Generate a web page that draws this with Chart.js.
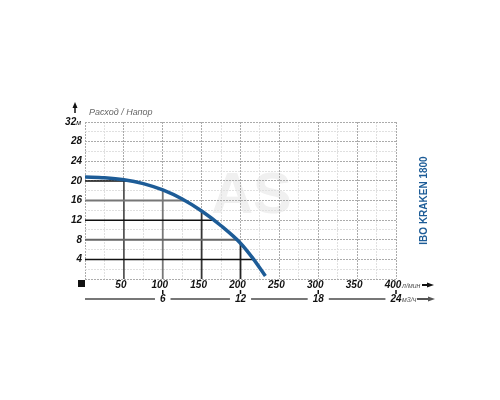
<!DOCTYPE html>
<html>
<head>
<meta charset="utf-8">
<script src="https://cdn.jsdelivr.net/npm/chart.js@4/dist/chart.umd.min.js"></script>
<style>
  html, body { margin: 0; background: #fff; }
  #wrap { width: 500px; height: 400px; }
</style>
</head>
<body>
<div id="wrap"><canvas id="pumpChart" width="500" height="400"></canvas></div>
<script>
// Pump curve IBO KRAKEN 1800: flow (l/min) vs head (m)
const flowLmin = [0, 25, 50, 75, 100, 125, 150, 175, 200, 216, 232];
const headM = [20.8, 20.65, 20.25, 19.45, 18.15, 16.3, 13.85, 10.85, 7.3, 4.2, 0.6];

// helper lines drawn from the axes up to the curve
const headLevels = [20, 16, 12, 8, 4];
const flowLevels = [50, 100, 150, 200];

const yTicks = [4, 8, 12, 16, 20, 24, 28, 32];
const xTicks = [50, 100, 150, 200, 250, 300, 350, 400];
const m3Ticks = [6, 12, 18, 24];

const headColors = ['#111', '#777', '#111', '#666', '#111'];
const flowColors = ['#555', '#777', '#333', '#222'];

// linear interpolation on the curve data
function flowAtHead(h) {
    for (let i = 1; i < headM.length; i++) {
        if (headM[i] <= h) {
            const t = (headM[i - 1] - h) / (headM[i - 1] - headM[i]);
            return flowLmin[i - 1] + t * (flowLmin[i] - flowLmin[i - 1]);
        }
    }
    return flowLmin[flowLmin.length - 1];
}
function headAtFlow(q) {
    for (let i = 1; i < flowLmin.length; i++) {
        if (flowLmin[i] >= q) {
            const t = (q - flowLmin[i - 1]) / (flowLmin[i] - flowLmin[i - 1]);
            return headM[i - 1] + t * (headM[i] - headM[i - 1]);
        }
    }
    return 0;
}

const datasets = [{
    data: flowLmin.map((q, i) => ({ x: q, y: headM[i] })),
    borderColor: '#1d5c97',
    borderWidth: 3.5,
    cubicInterpolationMode: 'monotone',
    pointRadius: 0,
    borderCapStyle: 'butt',
    borderJoinStyle: 'round'
}];
headLevels.forEach((h, i) => {
    datasets.push({
        data: [{ x: 0, y: h }, { x: flowAtHead(h), y: h }],
        borderColor: headColors[i],
        borderWidth: headColors[i] === '#111' ? 1.5 : 2,
        pointRadius: 0
    });
});
flowLevels.forEach((q, i) => {
    datasets.push({
        data: [{ x: q, y: 0 }, { x: q, y: headAtFlow(q) }],
        borderColor: flowColors[i],
        borderWidth: 1.8,
        pointRadius: 0
    });
});

const LABEL_FONT = 'bold italic 10px "Liberation Sans", sans-serif';
const UNIT_FONT = 'italic 7px "Liberation Sans", sans-serif';

function arrowRight(ctx, x0, x1, y, color) {
    ctx.strokeStyle = color;
    ctx.lineWidth = 2;
    ctx.beginPath();
    ctx.moveTo(x0, y);
    ctx.lineTo(x1 - 5, y);
    ctx.stroke();
    ctx.fillStyle = color;
    ctx.beginPath();
    ctx.moveTo(x1, y);
    ctx.lineTo(x1 - 7, y - 2.5);
    ctx.lineTo(x1 - 7, y + 2.5);
    ctx.closePath();
    ctx.fill();
}

const decor = {
    id: 'decor',
    beforeDraw(chart) {
        const { ctx, width, height, chartArea: a } = chart;
        ctx.save();
        ctx.fillStyle = '#fff';
        ctx.fillRect(0, 0, width, height);
        // faint watermark
        ctx.fillStyle = '#f0f0f0';
        ctx.font = 'bold 58px "Liberation Sans", sans-serif';
        ctx.textAlign = 'center';
        ctx.textBaseline = 'middle';
        ctx.fillText('AS', (a.left + a.right) / 2 + 11, (a.top + a.bottom) / 2 - 4);
        ctx.restore();
    },
    afterDraw(chart) {
        const { ctx, chartArea: a } = chart;
        const xs = chart.scales.x, ys = chart.scales.y;
        ctx.save();

        // y tick labels
        ctx.font = LABEL_FONT;
        ctx.fillStyle = '#111';
        ctx.textBaseline = 'middle';
        ctx.textAlign = 'right';
        yTicks.forEach(v => {
            const y = ys.getPixelForValue(v);
            if (v === 32) {
                ctx.font = UNIT_FONT;
                const w = ctx.measureText('м').width;
                ctx.fillText('м', a.left - 4, y + 1);
                ctx.font = LABEL_FONT;
                ctx.fillText(String(v), a.left - 4 - w, y);
            } else {
                ctx.fillText(String(v), a.left - 3, y);
            }
        });

        // y arrow + title
        const ax = a.left - 10;
        ctx.fillStyle = '#111';
        ctx.beginPath();
        ctx.moveTo(ax, a.top - 20);
        ctx.lineTo(ax - 2.5, a.top - 14);
        ctx.lineTo(ax + 2.5, a.top - 14);
        ctx.closePath();
        ctx.fill();
        ctx.fillRect(ax - 0.75, a.top - 15, 1.5, 6);
        ctx.font = 'italic 9px "Liberation Sans", sans-serif';
        ctx.fillStyle = '#666';
        ctx.textAlign = 'left';
        ctx.fillText('Расход / Напор', a.left + 4, a.top - 10);

        // black origin square
        ctx.fillStyle = '#111';
        ctx.fillRect(a.left - 7, a.bottom + 1, 7, 7);

        // x tick labels (l/min)
        const row1 = a.bottom + 6;
        ctx.font = LABEL_FONT;
        ctx.fillStyle = '#111';
        ctx.textAlign = 'center';
        xTicks.forEach(v => {
            ctx.fillText(String(v), xs.getPixelForValue(v) - 3, row1);
        });
        const p400 = xs.getPixelForValue(400);
        ctx.font = UNIT_FONT;
        ctx.fillStyle = '#555';
        ctx.textAlign = 'left';
        ctx.fillText('л/мин', p400 + 6, row1 + 1);
        arrowRight(ctx, p400 + 26, p400 + 38, row1, '#111');

        // second axis (m3/h)
        const row2 = a.bottom + 20;
        ctx.font = LABEL_FONT;
        let prev = a.left;
        m3Ticks.forEach(v => {
            const px = xs.getPixelForValue(v * 1000 / 60);
            const half = ctx.measureText(String(v)).width / 2 + 5;
            ctx.strokeStyle = '#777';
            ctx.lineWidth = 2;
            ctx.beginPath();
            ctx.moveTo(prev, row2);
            ctx.lineTo(px - half, row2);
            ctx.stroke();
            ctx.fillStyle = '#111';
            ctx.fillRect(px - 0.75, row2 - 9, 1.5, 4);
            ctx.textAlign = 'center';
            ctx.fillText(String(v), px, row2);
            prev = px + half;
        });
        const p24 = xs.getPixelForValue(24 * 1000 / 60);
        ctx.font = UNIT_FONT;
        ctx.fillStyle = '#555';
        ctx.textAlign = 'left';
        ctx.fillText('м3/ч', p24 + 6, row2 + 1);
        arrowRight(ctx, p24 + 21, p24 + 39, row2, '#555');

        // model name
        ctx.translate(a.right + 28, (a.top + a.bottom) / 2);
        ctx.rotate(-Math.PI / 2);
        ctx.font = 'bold 10px "Liberation Sans", sans-serif';
        ctx.fillStyle = '#1d5c97';
        ctx.textAlign = 'center';
        ctx.fillText('IBO KRAKEN 1800', 0, 0);
        ctx.restore();
    }
};

function gridColor(major) {
    return ctx => (ctx.tick && ctx.tick.value % major === 0) ? '#ababab' : '#e0e0e0';
}

new Chart(document.getElementById('pumpChart'), {
    type: 'line',
    data: { datasets: datasets },
    options: {
        responsive: false,
        animation: false,
        events: [],
        layout: { padding: { left: 85, right: 104, top: 122, bottom: 121 } },
        plugins: { legend: { display: false }, tooltip: { enabled: false } },
        scales: {
            x: {
                type: 'linear', min: 0, max: 400,
                ticks: { display: false, stepSize: 25 },
                grid: { color: gridColor(50), lineWidth: 1, drawTicks: false },
                border: { display: false, dash: [2, 1] },
                afterFit: s => { s.height = 0; }
            },
            y: {
                min: 0, max: 32,
                ticks: { display: false, stepSize: 2 },
                grid: { color: gridColor(4), lineWidth: 1, drawTicks: false },
                border: { display: false, dash: [2, 1] },
                afterFit: s => { s.width = 0; }
            }
        }
    },
    plugins: [decor]
});
</script>
</body>
</html>
